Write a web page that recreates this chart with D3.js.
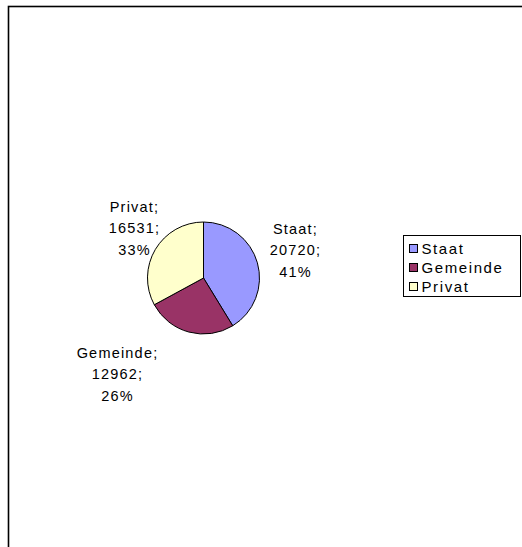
<!DOCTYPE html>
<html>
<head>
<meta charset="utf-8">
<script src="https://cdn.jsdelivr.net/npm/d3@7"></script>
<style>
  body { margin: 0; background: #fff; }
  svg { display: block; }
  text { font-family: "Liberation Sans", Arial, sans-serif; fill: #000; }
</style>
</head>
<body>
<div id="chart"></div>
<script>
(function () {
  ///////////////////////////////////////////////////////////// ! Data
  const categories = ["Staat", "Gemeinde", "Privat"];
  const values = [20720, 12962, 16531];
  const percents = ["41%", "26%", "33%"];
  const colors = ["#9999ff", "#993366", "#ffffcc"];

  ///////////////////////////////////////////////////////////// ! Setup
  const fullWidth = 522;
  const fullHeight = 547;
  const center = { x: 203.5, y: 278 };
  const radius = 56;

  const svg = d3
    .select("#chart")
    .append("svg")
    .attr("width", fullWidth)
    .attr("height", fullHeight);

  // chart area frame (runs off the right and bottom edges)
  svg
    .append("rect")
    .attr("x", 8.5)
    .attr("y", 6.5)
    .attr("width", 600)
    .attr("height", 600)
    .attr("fill", "none")
    .attr("stroke", "#000")
    .attr("stroke-width", 1.6);

  ///////////////////////////////////////////////////////////// ! Pie
  const data = categories.map((c, i) => ({
    name: c,
    value: values[i],
    pct: percents[i],
    color: colors[i],
  }));

  const pie = d3
    .pie()
    .sort(null)
    .value((d) => d.value);

  const arc = d3.arc().innerRadius(0).outerRadius(radius);

  const g = svg
    .append("g")
    .attr("transform", `translate(${center.x},${center.y})`);

  const arcs = pie(data);

  g.selectAll("path")
    .data(arcs)
    .enter()
    .append("path")
    .attr("d", arc)
    .attr("fill", (d) => d.data.color)
    .attr("stroke", "#000")
    .attr("stroke-width", 1);

  ///////////////////////////////////////////////////////////// ! Data labels
  // label anchor offsets relative to the pie centre (centre of middle line)
  const labelPos = {
    Staat: [92, -28],
    Gemeinde: [-86, 96],
    Privat: [-69, -50],
  };
  const lineH = 21.5;

  arcs.forEach((d) => {
    const [dx, dy] = labelPos[d.data.name];
    const lines = [d.data.name + ";", d.data.value + ";", d.data.pct];
    const t = g
      .append("text")
      .attr("text-anchor", "middle")
      .style("font-size", "14.5px")
      .style("letter-spacing", "1.2px");
    lines.forEach((l, i) => {
      t.append("tspan")
        .attr("x", dx)
        .attr("y", dy + (i - 1) * lineH + 5)
        .text(l);
    });
  });

  ///////////////////////////////////////////////////////////// ! Legend
  const legend = svg.append("g").attr("transform", "translate(403.5,235.5)");

  legend
    .append("rect")
    .attr("width", 117)
    .attr("height", 61)
    .attr("fill", "#fff")
    .attr("stroke", "#000")
    .attr("stroke-width", 1);

  const items = legend
    .selectAll("g.item")
    .data(data)
    .enter()
    .append("g")
    .attr("class", "item")
    .attr("transform", (d, i) => `translate(6,${13 + i * 19})`);

  items
    .append("rect")
    .attr("x", 0)
    .attr("y", -4)
    .attr("width", 8)
    .attr("height", 8)
    .attr("fill", (d) => d.color)
    .attr("stroke", "#000")
    .attr("stroke-width", 1);

  items
    .append("text")
    .attr("x", 12)
    .attr("y", 5)
    .style("font-size", "15px")
    .style("letter-spacing", "1.6px")
    .text((d) => d.name);
})();
</script>
</body>
</html>
